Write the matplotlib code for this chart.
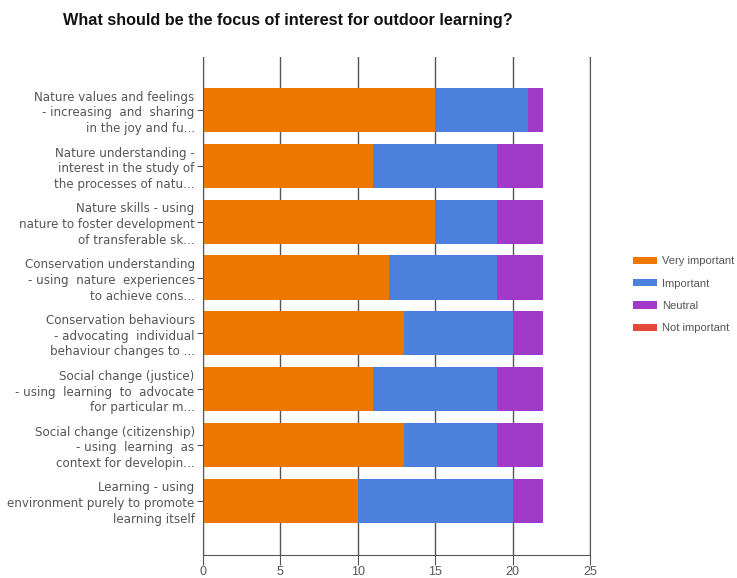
import matplotlib.pyplot as plt
import numpy as np

plt.rcParams['font.family'] = ['Liberation Sans', 'DejaVu Sans']

categories = [
    "Nature values and feelings\n- increasing  and  sharing\nin the joy and fu...",
    "Nature understanding -\ninterest in the study of\nthe processes of natu...",
    "Nature skills - using\nnature to foster development\nof transferable sk...",
    "Conservation understanding\n- using  nature  experiences\nto achieve cons...",
    "Conservation behaviours\n- advocating  individual\nbehaviour changes to ...",
    "Social change (justice)\n- using  learning  to  advocate\nfor particular m...",
    "Social change (citizenship)\n- using  learning  as\ncontext for developin...",
    "Learning - using\nenvironment purely to promote\nlearning itself",
]
very_important = [15, 11, 15, 12, 13, 11, 13, 10]
important = [6, 8, 4, 7, 7, 8, 6, 10]
neutral = [1, 3, 3, 3, 2, 3, 3, 2]
not_important = [0, 0, 0, 0, 0, 0, 0, 0]

series = [
    ("Very important", very_important, "#EE7700"),
    ("Important", important, "#4B80DC"),
    ("Neutral", neutral, "#A23AC9"),
    ("Not important", not_important, "#E2483C"),
]

fig = plt.figure(figsize=(7.37, 5.78), dpi=100)
ax = fig.add_axes([0.2754, 0.0398, 0.525, 0.8616])

y = np.arange(len(categories))[::-1]
left = np.zeros(len(categories))
for name, vals, color in series:
    vals = np.array(vals, dtype=float)
    ax.barh(y, vals, left=left, height=0.79, color=color, label=name, zorder=2)
    left += vals

ax.set_xlim(0, 25)
ax.set_ylim(-0.97, 7.95)
ax.set_xticks([0, 5, 10, 15, 20, 25])
ax.set_yticks(y)
ax.set_yticklabels(categories, fontsize=8.6, color="#555555", linespacing=1.27,
                   family='DejaVu Sans')
ax.tick_params(axis='y', length=4, color="#555555", pad=2)
ax.tick_params(axis='x', length=7, color="#555555", labelsize=9, labelcolor="#555555", pad=1)
ax.grid(axis='x', color="#555555", linewidth=1, zorder=0)
ax.spines['top'].set_visible(False)
for s in ['left', 'bottom', 'right']:
    ax.spines[s].set_color("#555555")

fig.text(0.391, 0.964, "What should be the focus of interest for outdoor learning?",
         ha='center', va='center', fontsize=11.7, fontweight='bold', color="#111111")

handles, labels = ax.get_legend_handles_labels()
fig.legend(handles, labels, loc='center left', bbox_to_anchor=(0.845, 0.49),
           frameon=False, fontsize=8, handlelength=2.2, handleheight=0.6,
           labelspacing=1.1, handletextpad=0.4, labelcolor="#555555")

fig.savefig("out.png", dpi=100)
